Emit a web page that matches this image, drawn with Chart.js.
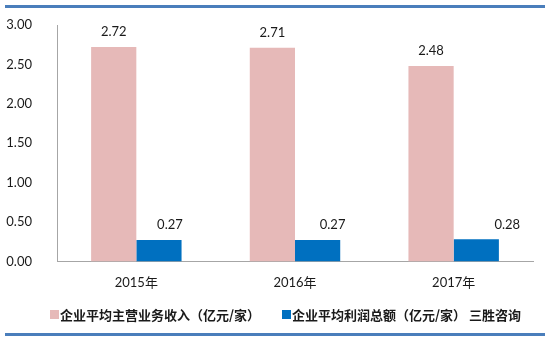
<!DOCTYPE html>
<html lang="zh">
<head>
  <meta charset="UTF-8" />
  <title>企业平均主营业务收入与利润总额</title>
  <script src="https://cdn.jsdelivr.net/npm/chart.js"></script>
  <style>
    body { margin: 0; background: #fff; }
    #wrap { width: 550px; height: 339px; position: relative; }
  </style>
</head>
<body>
  <div id="wrap"><canvas id="chart" width="550" height="339"></canvas></div>
  <script>
    const years = ["2015年", "2016年", "2017年"];
    const revenue = [2.72, 2.71, 2.48];
    const profit = [0.27, 0.27, 0.28];
    const seriesNames = ["企业平均主营业务收入（亿元/家）", "企业平均利润总额（亿元/家） 三胜咨询"];

    const numFont = "Lato, 'Liberation Sans', sans-serif";
    const cjkFont = "'Noto Sans CJK SC', sans-serif";

    // value labels above bars (Excel labels were nudged a bit on the blue series)
    const valueLabels = {
      id: "valueLabels",
      afterDatasetsDraw(chart) {
        const ctx = chart.ctx;
        const shift = [[0, 0, 0], [11, 15, 31]];
        ctx.save();
        ctx.font = "13px " + numFont;
        ctx.fillStyle = "#1a1a1a";
        ctx.textAlign = "center";
        ctx.textBaseline = "middle";
        chart.data.datasets.forEach((ds, i) => {
          chart.getDatasetMeta(i).data.forEach((bar, j) => {
            ctx.fillText(ds.data[j].toFixed(2), bar.x + shift[i][j], bar.y - 15);
          });
        });
        ctx.restore();
      }
    };

    // blue rules top and bottom + hand drawn legend
    const frame = {
      id: "frame",
      afterDraw(chart) {
        const ctx = chart.ctx;
        ctx.save();
        ctx.strokeStyle = "#4a7ebb";
        ctx.lineWidth = 3;
        ctx.beginPath();
        ctx.moveTo(5, 6.5); ctx.lineTo(545, 6.5);
        ctx.moveTo(5, 334.5); ctx.lineTo(545, 334.5);
        ctx.stroke();

        ctx.font = "bold 13px " + cjkFont;
        ctx.textBaseline = "middle";
        const starts = [50, 282];
        chart.data.datasets.forEach((ds, i) => {
          ctx.fillStyle = ds.backgroundColor;
          ctx.fillRect(starts[i], 310, 9, 9);
          ctx.fillStyle = "#1a1a1a";
          ctx.fillText(ds.label, starts[i] + 10, 315);
        });
        ctx.restore();
      }
    };

    new Chart(document.getElementById("chart"), {
      type: "bar",
      data: {
        labels: years,
        datasets: [
          { label: seriesNames[0], data: revenue, backgroundColor: "#e6b9b8" },
          { label: seriesNames[1], data: profit, backgroundColor: "#0070c0" }
        ]
      },
      options: {
        responsive: false,
        animation: false,
        layout: { padding: { left: 0, right: 17, top: 25, bottom: 42 } },
        datasets: { bar: { categoryPercentage: 0.57, barPercentage: 1 } },
        plugins: {
          legend: { display: false },
          tooltip: { enabled: false }
        },
        scales: {
          x: {
            grid: { display: false },
            border: { color: "#a6a6a6", width: 1 },
            ticks: { padding: 6, color: "#1a1a1a", font: { family: numFont + ", " + cjkFont, size: 13 } }
          },
          y: {
            min: 0,
            max: 3,
            grid: { display: false },
            border: { color: "#a6a6a6", width: 1 },
            ticks: {
              stepSize: 0.5,
              padding: 17,
              color: "#1a1a1a",
              font: { family: numFont, size: 13 },
              callback: v => v.toFixed(2)
            },
            afterFit(s) { s.width = 57; }
          }
        }
      },
      plugins: [valueLabels, frame]
    });
  </script>
</body>
</html>
